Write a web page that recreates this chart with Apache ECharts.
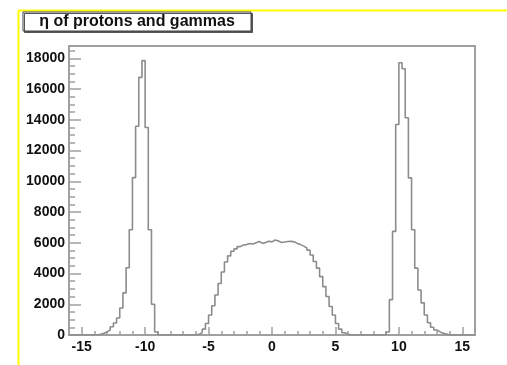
<!DOCTYPE html>
<html>
<head>
<meta charset="utf-8">
<script src="https://cdn.jsdelivr.net/npm/echarts@6/dist/echarts.min.js"></script>
<style>
  html, body { margin: 0; padding: 0; background: #fff; }
  #chart { width: 507px; height: 365px; }
</style>
</head>
<body>
<div id="chart"></div>
<script>
// histogram binning: 0.25 wide bins over [-16, 16]
const binLow = -16;
const binHigh = 16;
const binWidth = 0.25;

// counts, each block starts at its first bin's low edge
const leftPeakStart = -14;
const leftPeakCounts = [15, 50, 110, 200, 330, 540, 780, 1110, 1760, 2740, 4370, 6850,
  10240, 13580, 16760, 17850, 13500, 6850, 2000, 200];

const centralStart = -6;
const centralCounts = [40, 160, 380, 750, 1300, 1900, 2600, 3350, 4100, 4750, 5150, 5450,
  5600, 5750, 5850, 5880, 5950, 5920, 6000, 6080, 5960, 6020, 6100, 6060,
  6180, 6120, 6020, 6050, 6080, 6100, 6060, 5960, 5880, 5780, 5660, 5520,
  5200, 4780, 4350, 3800, 3150, 2500, 1850, 1300, 750, 380, 150, 40];

const rightPeakStart = 9;
const rightPeakCounts = [200, 2300, 6740, 13690, 17710, 17320, 14130, 10220, 6850, 4350,
  2930, 2090, 1300, 800, 500, 330, 200, 120, 60, 20];

const xMajorTicks = [-15, -10, -5, 0, 5, 10, 15];
const yMajorTicks = [0, 2000, 4000, 6000, 8000, 10000, 12000, 14000, 16000, 18000];
const yMax = 18800;

const titleText = 'η of protons and gammas';

// build the full bin table (empty bins are 0)
const nBins = Math.round((binHigh - binLow) / binWidth);
const counts = new Array(nBins).fill(0);
function place(start, arr) {
  const i0 = Math.round((start - binLow) / binWidth);
  arr.forEach((v, k) => { counts[i0 + k] = v; });
}
place(leftPeakStart, leftPeakCounts);
place(centralStart, centralCounts);
place(rightPeakStart, rightPeakCounts);

const histData = counts.map((v, i) => [binLow + i * binWidth, v]);
histData.push([binHigh, counts[nBins - 1]]);

const xMinorTicks = [];
for (let x = binLow; x <= binHigh; x += 1) xMinorTicks.push(x);
const yMinorTicks = [];
for (let y = 0; y <= 18500; y += 500) yMinorTicks.push(y);

const axisGray = '#a0a0a0';
const labelFont = {
  color: '#111',
  fontFamily: '"Liberation Sans", Arial, sans-serif',
  fontWeight: 'bold',
  fontSize: 14,
};

const chart = echarts.init(document.getElementById('chart'));
chart.setOption({
  animation: false,
  grid: {
    left: 69,
    top: 46,
    right: 32,
    bottom: 30,
    show: true,
    borderColor: axisGray,
    borderWidth: 2,
    backgroundColor: '#fff',
  },
  xAxis: [
    {
      type: 'value',
      min: binLow,
      max: binHigh,
      axisLine: { show: true, onZero: false, lineStyle: { color: axisGray, width: 2 } },
      axisTick: { show: true, inside: true, length: 8, customValues: xMajorTicks, lineStyle: { color: axisGray, width: 1.5 } },
      axisLabel: { ...labelFont, margin: 5, customValues: xMajorTicks, formatter: (v) => String(v) },
      splitLine: { show: false },
    },
    {
      type: 'value',
      min: binLow,
      max: binHigh,
      position: 'bottom',
      axisLine: { show: false, onZero: false },
      axisTick: { show: true, inside: true, length: 4, customValues: xMinorTicks, lineStyle: { color: axisGray, width: 1.5 } },
      axisLabel: { show: false },
      splitLine: { show: false },
    },
  ],
  yAxis: [
    {
      type: 'value',
      min: 0,
      max: yMax,
      axisLine: { show: true, onZero: false, lineStyle: { color: axisGray, width: 2 } },
      axisTick: { show: true, inside: true, length: 12, customValues: yMajorTicks, lineStyle: { color: axisGray, width: 1.5 } },
      axisLabel: { ...labelFont, margin: 4, customValues: yMajorTicks, formatter: (v) => String(v) },
      splitLine: { show: false },
    },
    {
      type: 'value',
      min: 0,
      max: yMax,
      position: 'left',
      axisLine: { show: false, onZero: false },
      axisTick: { show: true, inside: true, length: 6, customValues: yMinorTicks, lineStyle: { color: axisGray, width: 1.5 } },
      axisLabel: { show: false },
      splitLine: { show: false },
    },
  ],
  series: [
    {
      type: 'line',
      step: 'end',
      xAxisIndex: 0,
      yAxisIndex: 0,
      data: histData,
      showSymbol: false,
      symbol: 'none',
      lineStyle: { color: '#8c8c8c', width: 1.6 },
    },
  ],
  graphic: [
    { type: 'line', shape: { x1: 18, y1: 10.5, x2: 507, y2: 10.5 }, style: { stroke: '#ffff00', lineWidth: 2 } },
    { type: 'line', shape: { x1: 18.5, y1: 10, x2: 18.5, y2: 365 }, style: { stroke: '#ffff00', lineWidth: 2 } },
    {
      type: 'rect',
      shape: { x: 23, y: 12, width: 228, height: 19 },
      style: { fill: '#fff', stroke: '#444', lineWidth: 1, shadowColor: '#555', shadowOffsetX: 1.5, shadowOffsetY: 1.5 },
    },
    {
      type: 'text',
      x: 137,
      y: 22,
      style: {
        text: titleText,
        align: 'center',
        verticalAlign: 'middle',
        fill: '#111',
        font: 'bold 16px "Liberation Sans", Arial, sans-serif',
      },
    },
  ],
});
</script>
</body>
</html>
